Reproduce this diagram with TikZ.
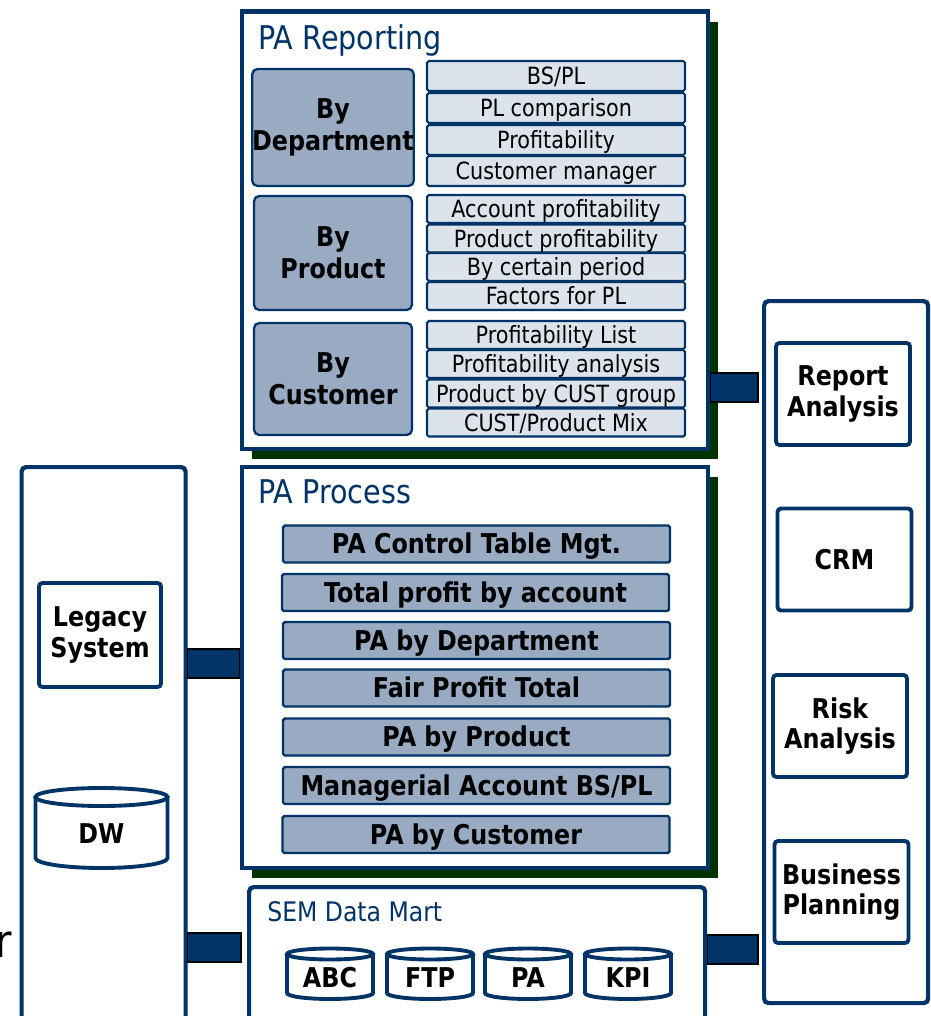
\documentclass[tikz,border=0pt]{standalone}
\usepackage{fontspec}
\setmainfont{DejaVu Sans}[FakeStretch=0.875]
\usetikzlibrary{shadows}
\definecolor{navy}{HTML}{003366}
\definecolor{shadowgreen}{HTML}{003300}
\definecolor{midfill}{HTML}{98ABC2}
\definecolor{lightfill}{HTML}{DCE3EB}

\begin{document}
\begin{tikzpicture}[x=0.2mm, y=-0.2mm,
  panel/.style={draw=navy, line width=2.7pt, fill=white, inner sep=0pt, anchor=north west,
    drop shadow={shadow xshift=0.2cm, shadow yshift=-0.2cm, fill=shadowgreen, opacity=1}},
  column/.style={draw=navy, line width=2.4pt, fill=white, rounded corners=2.5pt, inner sep=0pt, anchor=north west},
  paneltitle/.style={text=navy, font=\fontsize{18.6}{21}\selectfont, anchor=base west, inner sep=0pt},
  sysbox/.style={draw=navy, line width=2.2pt, fill=white, rounded corners=2pt, align=center,
    minimum width=2.68cm, minimum height=2.04cm, font=\bfseries\fontsize{15.5}{17.5}\selectfont},
  groupbox/.style={draw=navy, line width=1.3pt, fill=midfill, rounded corners=3pt, align=center,
    minimum width=3.16cm, inner sep=0pt, font=\bfseries\fontsize{15.5}{18}\selectfont},
  itembox/.style={draw=navy, line width=1.2pt, fill=lightfill, rounded corners=1pt, inner sep=0pt,
    minimum width=5.16cm, text height=9.8pt, text depth=0pt, font=\fontsize{13.5}{15}\selectfont},
  procbar/.style={draw=navy, line width=1.4pt, fill=midfill, rounded corners=1pt, inner sep=0pt,
    minimum width=7.74cm, minimum height=0.74cm, text height=11.3pt, text depth=0pt,
    font=\bfseries\fontsize{15.5}{18}\selectfont},
  dbline/.style={draw=navy, line width=2.2pt, fill=white},
  dbtext/.style={inner sep=0pt, text height=11.3pt, text depth=0pt, font=\bfseries\fontsize{15.5}{18}\selectfont},
  link/.style={fill=navy, draw=black, line width=0.8pt}
]
\useasboundingbox (0,0) rectangle (930,1016);
\clip (0,0) rectangle (930,1016);

% outer columns
\node[column, minimum width=3.28cm, minimum height=11.6cm] (leftcol) at (19.5,465) {};
\node[column, minimum width=3.28cm, minimum height=14.04cm] (rightcol) at (762,299) {};
\node[column, minimum width=9.12cm, minimum height=3.2cm] (sem) at (247,885) {};

% main panels
\node[panel, minimum width=9.32cm, minimum height=8.74cm] (reporting) at (239.5,9.5) {};
\node[panel, minimum width=9.32cm, minimum height=8.02cm] (process) at (239.5,464.5) {};

\node[paneltitle] (reptitle) at (258,50) {PA Reporting};
\node[paneltitle] (proctitle) at (258,503) {PA Process};
\node[paneltitle, font=\fontsize{15.3}{18}\selectfont] (semtitle) at (267,921) {SEM Data Mart};

% reporting groups
\node[groupbox, minimum height=2.34cm] (bydept) at (333,127.5) {By\\Department};
\node[groupbox, minimum height=2.28cm] (byprod) at (333,253) {By\\Product};
\node[groupbox, minimum height=2.24cm] (bycust) at (333,379) {By\\Customer};

\node[itembox, minimum height=0.6cm] (bspl) at (556,76) {BS/PL};
\node[itembox, minimum height=0.6cm] (plcomp) at (556,108) {PL comparison};
\node[itembox, minimum height=0.6cm] (profit) at (556,140) {Profitability};
\node[itembox, minimum height=0.6cm] (custmgr) at (556,171) {Customer manager};

\node[itembox, minimum height=0.56cm] (accprof) at (556,209) {Account profitability};
\node[itembox, minimum height=0.56cm] (prodprof) at (556,238.5) {Product profitability};
\node[itembox, minimum height=0.56cm] (period) at (556,267) {By certain period};
\node[itembox, minimum height=0.56cm] (factors) at (556,296) {Factors for PL};

\node[itembox, minimum height=0.56cm] (proflist) at (556,335) {Profitability List};
\node[itembox, minimum height=0.56cm] (profana) at (556,364) {Profitability analysis};
\node[itembox, minimum height=0.56cm] (custgroup) at (556,393.5) {Product by CUST group};
\node[itembox, minimum height=0.56cm] (prodmix) at (556,422.5) {CUST/Product Mix};

% process steps
\node[procbar] (ctrltable) at (476.5,544) {PA Control Table Mgt.};
\node[procbar] (totprofit) at (475.5,592.5) {Total profit by account};
\node[procbar] (padept) at (476.5,640.5) {PA by Department};
\node[procbar] (fairprofit) at (476.5,688) {Fair Profit Total};
\node[procbar] (paprod) at (476.5,737) {PA by Product};
\node[procbar] (mgrbspl) at (476.5,785.5) {Managerial Account BS/PL};
\node[procbar] (pacust) at (476,834.5) {PA by Customer};

% source side
\node[sysbox, minimum width=2.44cm, minimum height=2.08cm] (legacy) at (100,635) {Legacy\\System};
\draw[dbline] (35.5,797) -- (35.5,858) arc[start angle=180, end angle=0, x radius=66, y radius=10] -- (167.5,797);
\draw[dbline] (101.5,797) ellipse[x radius=66, y radius=9];
\node[dbtext] (dw) at (101.5,834) {DW};
\node[anchor=base east, inner sep=0pt, font=\fontsize{26}{28}\selectfont] (cutr) at (12,957) {r};

% data mart
\foreach \cx/\nm/\lbl in {330/abc/ABC, 430/ftp/FTP, 528/padb/PA, 628/kpi/KPI} {
  \draw[dbline] (\cx-43,954) -- (\cx-43,993) arc[start angle=180, end angle=0, x radius=43, y radius=6] -- (\cx+43,954);
  \draw[dbline] (\cx,954) ellipse[x radius=43, y radius=5.5];
  \node[dbtext] (\nm) at (\cx,978) {\lbl};
}

% consumers
\node[sysbox] (report) at (843,394) {Report\\Analysis};
\node[sysbox] (crm) at (844.5,559.5) {CRM};
\node[sysbox] (risk) at (840,726) {Risk\\Analysis};
\node[sysbox] (bizplan) at (841.5,892) {Business\\Planning};

% links
\coordinate (semin) at ([xshift=-0.12cm]sem.west);
\coordinate (rcin) at ([xshift=-0.08cm]rightcol.west);
\draw[link] (leftcol.east |- 0,649) rectangle (process.west |- 0,678);
\draw[link] (leftcol.east |- 0,933) rectangle (semin |- 0,962);
\draw[link] (reporting.east |- 0,373) rectangle (rcin |- 0,402);
\draw[link] (sem.east |- 0,935) rectangle (rcin |- 0,964);
\end{tikzpicture}
\end{document}
